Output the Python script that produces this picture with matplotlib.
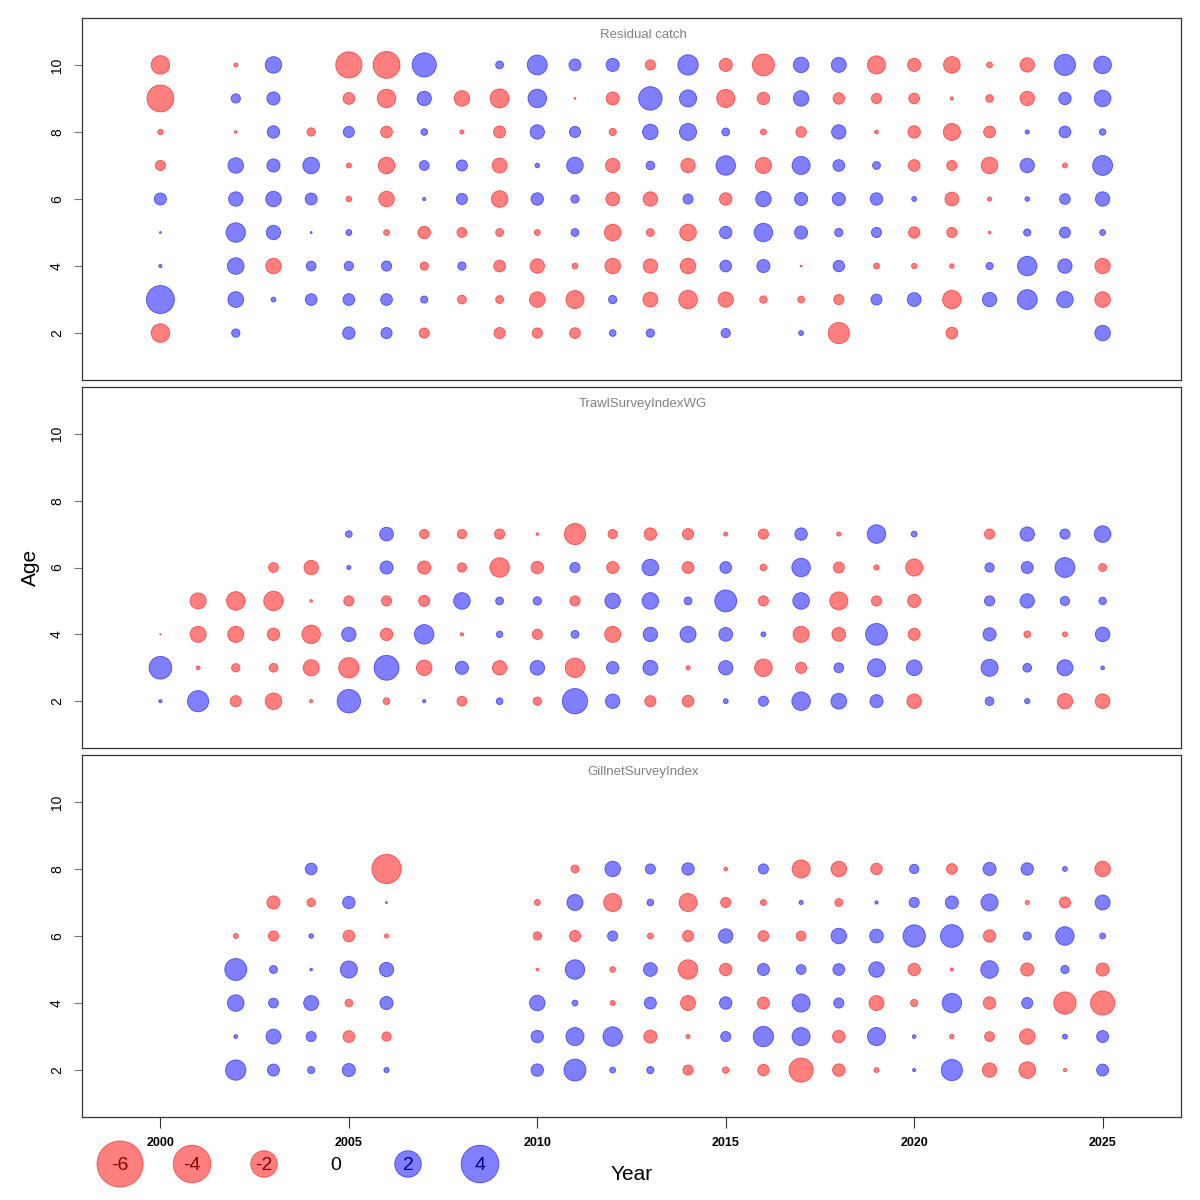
import numpy as np
import matplotlib
matplotlib.use("Agg")
import matplotlib.pyplot as plt
from matplotlib.patches import Circle

plt.rcParams['font.family'] = ['Liberation Sans', 'DejaVu Sans']

nan = np.nan
years = list(range(2000, 2026))
panel_titles = ["Residual catch", "TrawlSurveyIndexWG", "GillnetSurveyIndex"]

# Residual catch, rows = ages 2..10, columns = years 2000..2025
catch_ages = [2, 3, 4, 5, 6, 7, 8, 9, 10]
catch_resid = [
    [-1.0, nan, 0.2, nan, nan, 0.45, 0.36, -0.3, nan, -0.36, -0.3, -0.33, 0.13, 0.2, nan, 0.25, nan, 0.07, -1.3, nan, nan, -0.4, nan, nan, nan, 0.7],
    [2.27, nan, 0.72, 0.07, 0.4, 0.4, 0.4, 0.15, -0.22, -0.18, -0.7, -0.95, 0.2, -0.65, -1.0, -0.68, -0.16, -0.13, -0.3, 0.35, 0.55, -1.0, 0.6, 1.15, 0.8, -0.7],
    [0.03, nan, 0.8, -0.7, 0.28, 0.25, 0.3, -0.2, 0.2, -0.4, -0.6, -0.1, -0.7, -0.6, -0.7, 0.4, 0.5, -0.01, 0.38, -0.1, -0.08, -0.06, 0.15, 1.1, 0.6, -0.68],
    [0.01, nan, 1.1, 0.6, 0.01, 0.1, -0.1, -0.45, -0.28, -0.18, -0.1, 0.18, -0.8, -0.18, -0.8, 0.45, 1.0, 0.5, 0.2, 0.3, -0.38, -0.3, -0.02, 0.15, 0.35, 0.1],
    [0.42, nan, 0.6, 0.7, 0.42, -0.09, -0.7, 0.03, 0.36, -0.8, 0.45, 0.2, -0.55, -0.6, 0.3, -0.45, 0.7, 0.5, 0.5, 0.45, 0.07, -0.55, -0.05, 0.06, 0.33, 0.6],
    [-0.3, nan, 0.7, 0.5, 0.8, -0.07, -0.8, 0.28, 0.36, -0.65, 0.06, 0.8, -0.6, 0.22, -0.6, 1.1, -0.75, 0.95, 0.4, 0.18, -0.4, -0.3, -0.8, 0.6, -0.07, 1.15],
    [-0.08, nan, -0.02, 0.45, -0.2, 0.36, -0.4, 0.13, -0.05, -0.42, 0.6, 0.36, -0.15, 0.7, 0.85, 0.18, -0.1, -0.32, 0.6, -0.04, -0.45, -0.85, -0.4, 0.05, 0.4, 0.12],
    [-2.1, nan, 0.25, 0.5, nan, -0.4, -1.0, 0.6, -0.7, -1.05, 1.0, -0.01, -0.5, 1.6, 0.85, -0.95, -0.45, 0.7, -0.38, -0.3, -0.33, -0.03, -0.17, -0.6, 0.45, 0.8],
    [-1.0, nan, -0.045, 0.79, nan, -2.0, -2.1, 1.7, nan, 0.18, 1.15, 0.42, 0.5, -0.3, 1.2, -0.5, -1.4, 0.7, 0.65, -0.95, -0.5, -0.8, -0.1, -0.6, 1.3, 0.9],
]

# TrawlSurveyIndexWG, rows = ages 2..7
trawl_ages = [2, 3, 4, 5, 6, 7]
trawl_resid = [
    [0.03, 1.3, -0.36, -0.8, -0.03, 1.6, -0.13, 0.03, -0.28, 0.13, -0.2, 1.85, 0.6, -0.36, -0.4, 0.07, 0.3, 1.0, 0.72, 0.5, -0.62, nan, 0.22, 0.08, -0.68, -0.62],
    [1.5, -0.04, -0.2, -0.22, -0.75, -1.2, 1.8, -0.7, 0.5, -0.6, 0.62, -1.1, 0.45, 0.65, -0.05, 0.6, -0.9, -0.36, 0.28, 0.95, 0.72, nan, 0.85, 0.22, 0.75, 0.04],
    [-0.005, -0.75, -0.75, -0.45, -1.0, 0.6, -0.45, 1.1, -0.03, 0.12, -0.3, 0.18, -0.75, 0.6, 0.75, 0.55, 0.07, -0.75, -0.55, 1.38, -0.42, nan, 0.5, -0.13, -0.07, 0.62],
    [nan, -0.75, -1.0, -1.1, -0.02, -0.3, -0.3, -0.36, 0.8, 0.18, 0.2, -0.3, 0.7, 0.8, 0.18, 1.4, -0.3, 0.8, -0.95, -0.3, -0.5, nan, 0.3, 0.6, 0.25, 0.16],
    [nan, nan, nan, -0.28, -0.6, 0.05, 0.5, -0.5, -0.25, -1.1, -0.45, 0.3, -0.42, 0.8, -0.4, 0.4, -0.13, 1.0, -0.35, -0.08, -0.85, nan, 0.25, 0.42, 1.15, -0.18],
    [nan, nan, nan, nan, nan, 0.13, 0.55, -0.25, -0.25, -0.3, -0.02, -1.3, -0.25, -0.45, -0.36, -0.05, -0.3, 0.45, -0.05, 1.0, 0.1, nan, -0.3, 0.6, 0.3, 0.8],
]

# GillnetSurveyIndex, rows = ages 2..8
gill_ages = [2, 3, 4, 5, 6, 7, 8]
gill_resid = [
    [nan, nan, 1.2, 0.42, 0.15, 0.5, 0.08, nan, nan, nan, 0.45, 1.4, 0.1, 0.15, -0.3, -0.12, -0.38, -1.7, -0.45, -0.07, 0.03, 1.3, -0.6, -0.8, -0.03, 0.42],
    [nan, nan, 0.04, 0.65, 0.3, -0.4, -0.25, nan, nan, nan, 0.45, 0.95, 1.1, -0.5, -0.05, 0.3, 1.2, 0.95, -0.45, 0.95, 0.04, -0.06, -0.28, -0.7, 0.07, 0.42],
    [nan, nan, 0.8, 0.28, 0.65, -0.17, 0.5, nan, nan, nan, 0.7, 0.1, -0.07, 0.42, -0.65, 0.45, -0.42, 0.95, 0.3, -0.65, -0.15, 1.1, -0.45, 0.36, -1.45, -1.7],
    [nan, nan, 1.4, 0.18, 0.02, 0.85, 0.6, nan, nan, nan, -0.02, 1.1, -0.09, 0.55, -1.1, -0.45, 0.42, 0.28, 0.4, 0.7, -0.45, -0.03, 0.9, -0.5, 0.2, -0.5],
    [nan, nan, -0.07, -0.3, 0.06, -0.4, -0.05, nan, nan, nan, -0.2, -0.36, 0.3, -0.1, -0.36, 0.6, -0.33, -0.28, 0.7, 0.55, 1.45, 1.5, -0.45, 0.2, 1.0, 0.1],
    [nan, nan, nan, -0.5, -0.2, 0.45, 0.01, nan, nan, nan, -0.1, 0.75, -0.95, 0.13, -0.95, -0.3, -0.1, 0.05, -0.18, 0.03, 0.3, 0.5, 0.85, -0.05, -0.36, 0.65],
    [nan, nan, nan, nan, 0.4, nan, -2.5, nan, nan, nan, nan, -0.18, 0.7, 0.3, 0.45, -0.04, 0.3, -0.95, -0.7, -0.38, 0.25, -0.33, 0.5, 0.45, 0.07, -0.7],
]

legend_values = [-6, -4, -2, 0, 2, 4]

W = H = 1200
fig = plt.figure(figsize=(12, 12), dpi=100)

RED_FACE = (1, 0, 0, 0.5)
RED_EDGE = (1, 0.15, 0.15, 0.75)
BLUE_FACE = (0, 0, 1, 0.5)
BLUE_EDGE = (0.15, 0.15, 1, 0.75)
S_PER_UNIT = 178.0   # marker area (pt^2) per unit |residual|

panels = [(catch_ages, catch_resid, 18, 380),
          (trawl_ages, trawl_resid, 387, 748),
          (gill_ages, gill_resid, 755, 1117)]

left, right = 82, 1181
for i, (ages, resid, top, bot) in enumerate(panels):
    ax = fig.add_axes([left / W, 1 - bot / H, (right - left) / W, (bot - top) / H])
    arr = np.array(resid, dtype=float)
    X, Y = np.meshgrid(years, ages)
    m = ~np.isnan(arr)
    xv, yv, vv = X[m], Y[m], arr[m]
    neg = vv < 0
    ax.scatter(xv[neg], yv[neg], s=S_PER_UNIT * np.abs(vv[neg]), facecolor=RED_FACE,
               edgecolor=RED_EDGE, linewidths=0.6, zorder=3)
    ax.scatter(xv[~neg], yv[~neg], s=S_PER_UNIT * np.abs(vv[~neg]), facecolor=BLUE_FACE,
               edgecolor=BLUE_EDGE, linewidths=0.6, zorder=3)
    ax.set_xlim(1997.92, 2027.08)
    ax.set_ylim(0.6, 11.4)
    ax.set_yticks([2, 4, 6, 8, 10])
    ax.set_yticklabels(["2", "4", "6", "8", "10"], rotation=90, va="center", fontsize=10)
    ax.tick_params(axis="y", length=6, color="#777777", pad=7)
    for sp in ax.spines.values():
        sp.set_color("#333333")
        sp.set_linewidth(0.9)
    ax.text((643 - left) / (right - left), 1 - 17.5 / (bot - top), panel_titles[i],
            transform=ax.transAxes, ha="center", va="center", fontsize=9.5, color="#808080")
    if i == 2:
        ax.set_xticks([2000, 2005, 2010, 2015, 2020, 2025])
        ax.set_xticklabels(["2000", "2005", "2010", "2015", "2020", "2025"],
                           fontsize=9, fontweight="bold")
        ax.tick_params(axis="x", length=8, color="#333333", pad=6.5)
    else:
        ax.set_xticks([])

# overlay for legend and labels (pixel coordinates)
ov = fig.add_axes([0, 0, 1, 1])
ov.set_xlim(0, W)
ov.set_ylim(H, 0)
ov.axis("off")
ov.patch.set_alpha(0)

leg_x0, leg_dx, leg_y = 120, 72, 1164
for k, v in enumerate(legend_values):
    cx = leg_x0 + k * leg_dx
    if v != 0:
        r = 9.4 * np.sqrt(abs(v))
        face = RED_FACE if v < 0 else BLUE_FACE
        edge = RED_EDGE if v < 0 else BLUE_EDGE
        ov.add_patch(Circle((cx, leg_y), r, facecolor=face, edgecolor=edge, linewidth=0.6))
    tcol = "#8B0000" if v < 0 else ("#00008B" if v > 0 else "black")
    ov.text(cx, leg_y + 2, str(v), ha="center", va="center", fontsize=14, color=tcol)

ov.text(632, 1175, "Year", ha="center", va="center", fontsize=15)
ov.text(30, 567, "Age", ha="center", va="center", fontsize=15, rotation=90)

fig.savefig("out.png", dpi=100)
